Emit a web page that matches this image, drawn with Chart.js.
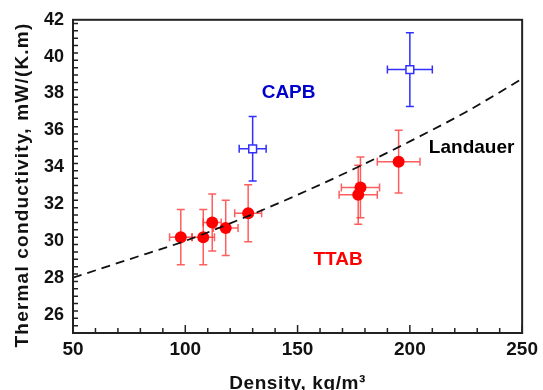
<!DOCTYPE html>
<html>
<head>
<meta charset="utf-8">
<script src="https://cdn.jsdelivr.net/npm/chart.js@4/dist/chart.umd.min.js"></script>
<style>
  html, body { margin: 0; padding: 0; background: #fff; }
  #wrap { width: 543px; height: 390px; }
</style>
</head>
<body>
<div id="wrap"><canvas id="kChart"></canvas></div>
<script>
// TTAB foams: density, conductivity and error bars
const ttabDensity = [98, 108, 112, 118, 128, 177, 178, 195];
const ttabK = [30.2, 30.2, 31.0, 30.7, 31.5, 32.5, 32.9, 34.3];
const ttabDensityErr = [5, 5, 4, 5.5, 6, 8.5, 8.5, 9.5];
const ttabKErr = [1.5, 1.5, 1.55, 1.5, 1.55, 1.6, 1.65, 1.7];

// CAPB foams
const capbDensity = [130, 200];
const capbK = [35.0, 39.3];
const capbDensityErr = [6, 10];
const capbKErr = [1.75, 2.0];

// Landauer model curve
const landauerDensity = [50, 75, 100, 125, 150, 175, 200, 225, 250];
const landauerK = [28.0, 29.0, 30.0, 31.2, 32.5, 33.9, 35.4, 37.0, 38.8];

// text labels on the plot
const labelText = ['CAPB', 'Landauer', 'TTAB'];
const labelX = [146, 227.5, 168];
const labelY = [38.05, 35.05, 29.0];
const labelColor = ['#0000cc', '#000000', '#ff0000'];

const xTicks = [50, 100, 150, 200, 250];
const yTicks = [26, 28, 30, 32, 34, 36, 38, 40, 42];

const FONT = 'Liberation Sans, Arial, sans-serif';

const toPoints = (xs, ys) => xs.map((x, i) => ({ x: x, y: ys[i] }));

// error bars, frame, inward ticks, titles and text
const extrasPlugin = {
    id: 'extras',
    beforeDatasetsDraw(chart) {
        const ctx = chart.ctx;
        const xs = chart.scales.x, ys = chart.scales.y;
        const bars = [
            { xs: ttabDensity, ys: ttabK, ex: ttabDensityErr, ey: ttabKErr, color: 'rgba(255,40,40,0.75)' },
            { xs: capbDensity, ys: capbK, ex: capbDensityErr, ey: capbKErr, color: '#3030ff' }
        ];
        const cap = 4;
        ctx.save();
        ctx.lineWidth = 1.5;
        bars.forEach(set => {
            ctx.strokeStyle = set.color;
            set.xs.forEach((d, i) => {
                const px = xs.getPixelForValue(d);
                const py = ys.getPixelForValue(set.ys[i]);
                const x0 = xs.getPixelForValue(d - set.ex[i]);
                const x1 = xs.getPixelForValue(d + set.ex[i]);
                const y0 = ys.getPixelForValue(set.ys[i] + set.ey[i]);
                const y1 = ys.getPixelForValue(set.ys[i] - set.ey[i]);
                ctx.beginPath();
                ctx.moveTo(px, y0); ctx.lineTo(px, y1);
                ctx.moveTo(px - cap, y0); ctx.lineTo(px + cap, y0);
                ctx.moveTo(px - cap, y1); ctx.lineTo(px + cap, y1);
                ctx.moveTo(x0, py); ctx.lineTo(x1, py);
                ctx.moveTo(x0, py - cap); ctx.lineTo(x0, py + cap);
                ctx.moveTo(x1, py - cap); ctx.lineTo(x1, py + cap);
                ctx.stroke();
            });
        });
        ctx.restore();
    },
    afterDraw(chart) {
        const ctx = chart.ctx;
        const a = chart.chartArea;
        const xs = chart.scales.x, ys = chart.scales.y;
        ctx.save();
        ctx.strokeStyle = '#222';
        ctx.lineWidth = 1.5;
        // x ticks (minor every 10)
        ctx.beginPath();
        for (let v = 50; v <= 250; v += 10) {
            const px = xs.getPixelForValue(v);
            const len = v % 50 === 0 ? 8 : 5;
            ctx.moveTo(px, a.bottom); ctx.lineTo(px, a.bottom - len);
        }
        // y ticks (minor every 0.4)
        for (let k = 0; k <= 42; k++) {
            const v = 25.0 + k * 0.4;
            if (v > 42.01) break;
            const px = ys.getPixelForValue(v);
            const major = Math.abs(v / 2 - Math.round(v / 2)) < 0.01;
            const len = major ? 8 : 5;
            ctx.moveTo(a.left, px); ctx.lineTo(a.left + len, px);
        }
        ctx.stroke();
        ctx.lineWidth = 2;
        ctx.strokeRect(a.left, a.top, a.right - a.left, a.bottom - a.top);
        // labels
        ctx.font = 'bold 19px ' + FONT;
        ctx.textAlign = 'center';
        ctx.textBaseline = 'middle';
        labelText.forEach((t, i) => {
            ctx.fillStyle = labelColor[i];
            ctx.fillText(t, xs.getPixelForValue(labelX[i]), ys.getPixelForValue(labelY[i]));
        });
        // axis titles
        ctx.fillStyle = '#111';
        ctx.textBaseline = 'alphabetic';
        ctx.font = 'bold 19px ' + FONT;
        ctx.letterSpacing = '0.6px';
        ctx.fillText('Density, kg/m³', (a.left + a.right) / 2, 389);
        ctx.translate(28, 185);
        ctx.rotate(-Math.PI / 2);
        ctx.font = 'bold 19px ' + FONT;
        ctx.letterSpacing = '1.2px';
        ctx.fillText('Thermal conductivity, mW/(K.m)', 0, 0);
        ctx.restore();
    }
};

new Chart(document.getElementById('kChart'), {
    type: 'scatter',
    data: {
        datasets: [
            {
                label: 'Landauer',
                type: 'line',
                data: toPoints(landauerDensity, landauerK),
                borderColor: '#111',
                borderWidth: 1.8,
                borderDash: [9, 6],
                pointRadius: 0,
                cubicInterpolationMode: 'monotone',
                fill: false
            },
            {
                label: 'TTAB',
                data: toPoints(ttabDensity, ttabK),
                pointStyle: 'circle',
                pointRadius: 6,
                backgroundColor: '#ff0000',
                borderColor: '#ff0000',
                borderWidth: 0
            },
            {
                label: 'CAPB',
                data: toPoints(capbDensity, capbK),
                pointStyle: 'rect',
                pointRadius: 5.5,
                backgroundColor: '#ffffff',
                borderColor: '#3030ff',
                borderWidth: 1.5
            }
        ]
    },
    options: {
        responsive: true,
        maintainAspectRatio: false,
        animation: false,
        layout: { padding: { top: 17, right: 17, left: 0, bottom: 0 } },
        plugins: {
            legend: { display: false },
            tooltip: { enabled: false }
        },
        scales: {
            x: {
                type: 'linear',
                min: 50,
                max: 250,
                afterBuildTicks: s => { s.ticks = xTicks.map(v => ({ value: v })); },
                afterFit: s => { s.height = 57; },
                grid: { display: false, drawTicks: false },
                border: { display: false },
                ticks: {
                    padding: 5,
                    color: '#111',
                    font: { family: FONT, size: 19, weight: 'bold' }
                }
            },
            y: {
                type: 'linear',
                min: 25,
                max: 42,
                afterBuildTicks: s => { s.ticks = yTicks.map(v => ({ value: v })); },
                afterFit: s => { s.width = 73; },
                grid: { display: false, drawTicks: false },
                border: { display: false },
                ticks: {
                    padding: 9,
                    color: '#111',
                    font: { family: FONT, size: 18, weight: 'bold' }
                }
            }
        }
    },
    plugins: [extrasPlugin]
});
</script>
</body>
</html>
